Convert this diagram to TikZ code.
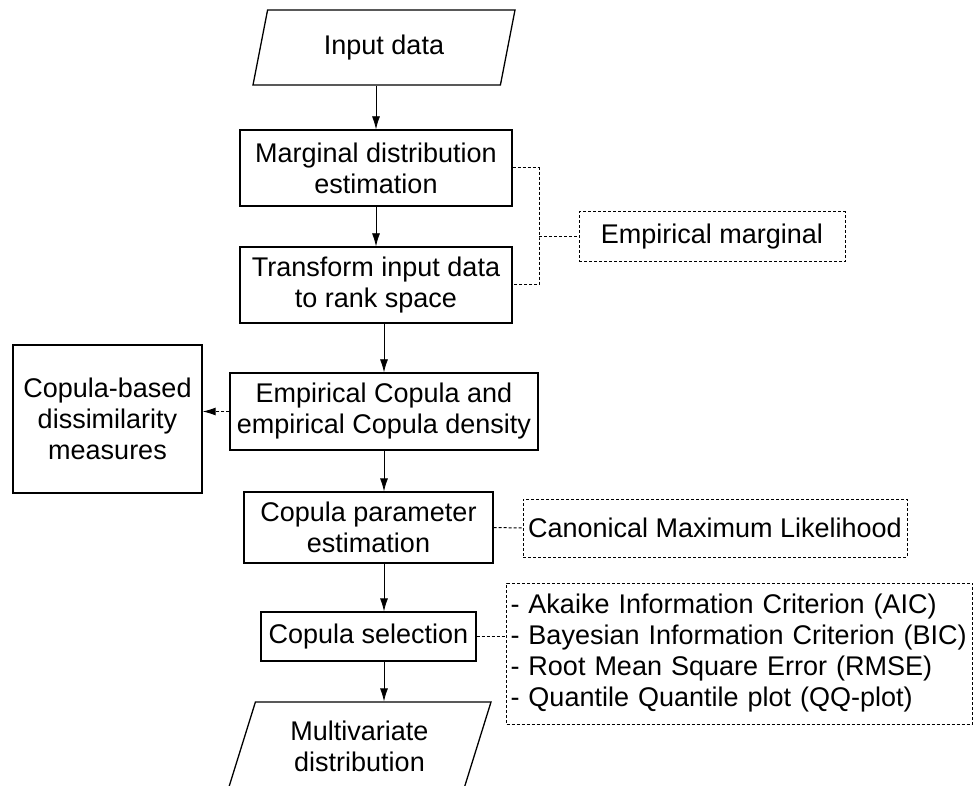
\documentclass[tikz,border=0pt]{standalone}
\usepackage{fontspec}
\setmainfont{Liberation Sans}
\usetikzlibrary{shapes.geometric,arrows.meta}

\begin{document}
\begin{tikzpicture}[
		x=0.5pt,y=-0.5pt,
		box/.style={
			draw,
			rectangle,
			line width=0.65pt,
			inner sep=1pt,
			align=center,
			font=\fontsize{13.5pt}{15.5pt}\selectfont
		},
		note/.style={
			box,
			line width=0.5pt,
			dash pattern=on 1.5pt off 1pt
		},
		io/.style={
			box,
			trapezium,
			trapezium left angle=63.43,
			trapezium right angle=116.57,
			trapezium stretches body
		},
		conn/.style={
			line width=0.5pt,
			dash pattern=on 1.5pt off 1pt
		},
		>={Latex[length=6.5pt,width=4pt]}
		]
		\useasboundingbox (0,0) rectangle (975,786);
		% main chain
		\node[io, minimum width=131pt, minimum height=37.5pt] (input) at (384,47.5) {Input data};
		\node[box, minimum width=136pt, minimum height=38pt] (marg) at (376,168) {Marginal distribution\\estimation};
		\node[box, minimum width=136pt, minimum height=38pt] (trans) at (376,285) {Transform input data\\to rank space};
		\node[box, minimum width=154pt, minimum height=38.5pt] (emp) at (384,411.5) {Empirical Copula and\\empirical Copula density};
		\node[box, minimum width=124.5pt, minimum height=35.5pt] (param) at (368.5,527.5) {Copula parameter\\estimation};
		\node[box, minimum width=107.5pt, minimum height=24.5pt] (sel) at (368.5,636.5) {Copula selection};
		\node[io, minimum width=131.5pt, minimum height=44pt] (multi) at (359.5,746) {Multivariate\\distribution};
		% side boxes
		\node[note, minimum width=133pt, minimum height=25pt] (empm) at (712,237) {Empirical marginal};
		\node[box, minimum width=94.5pt, minimum height=74pt] (cb) at (107.5,419) {Copula-based\\dissimilarity\\measures};
		\node[note, minimum width=192pt, minimum height=29pt] (canon) at (715,528) {Canonical Maximum Likelihood};
		\node[note, anchor=west, text width=229pt, inner xsep=2pt, minimum height=70.5pt, align=left] (crit) at (506,653.5)
			{- Akaike Information Criterion (AIC)\\- Bayesian Information Criterion (BIC)\\- Root Mean Square Error (RMSE)\\- Quantile Quantile plot (QQ-plot)};
		\coordinate (mj) at (539,237);

		\draw[->] (marg.north |- input.bottom side) -- (marg.north);
		\draw[->] (marg) -- (trans);
		\draw[->] (emp.north |- trans.south) -- (emp.north);
		\draw[->] (emp.south) -- (emp.south |- param.north);
		\draw[->] (emp.south |- param.south) -- (emp.south |- sel.north);
		\draw[->] (emp.south |- sel.south) -- (emp.south |- multi.top side);

		\draw[conn] (marg.east) -| (mj) |- (trans.east);
		\draw[conn] (mj) -- (empm.west);
		\draw[conn,->] (emp.west) -- (emp.west -| cb.east);
		\draw[conn] (param.east) -- (canon.west);
		\draw[conn] (sel.east) -- (sel.east -| crit.west);
\end{tikzpicture}
\end{document}
